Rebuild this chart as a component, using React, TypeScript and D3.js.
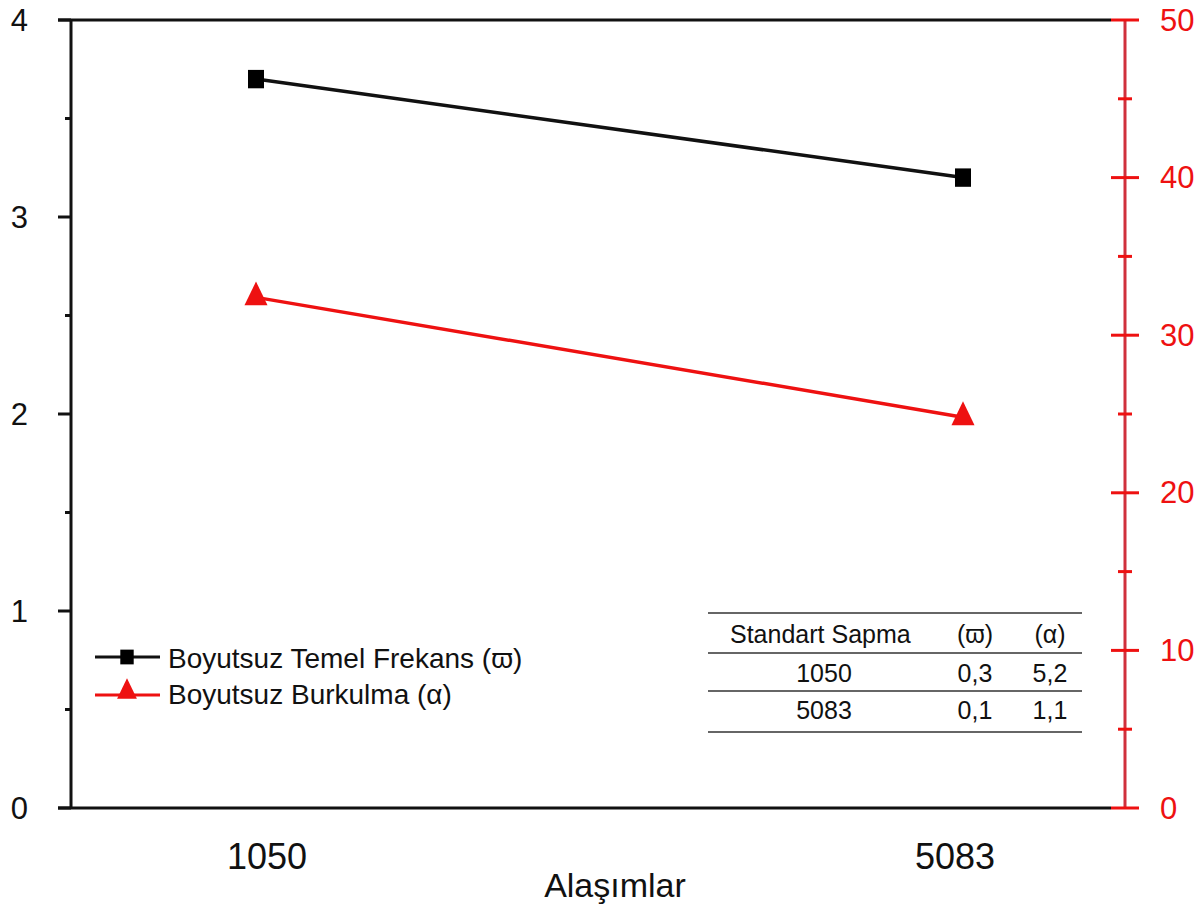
import React from "react";
import * as d3 from "d3";

// values
const categories = ["1050", "5083"];
const frekansValues = [3.7, 3.2]; // left axis
const burkulmaValues = [32.4, 24.8]; // right axis
const leftTicks = [0, 1, 2, 3, 4];
const leftMinor = [0.5, 1.5, 2.5, 3.5];
const rightTicks = [0, 10, 20, 30, 40, 50];
const rightMinor = [5, 15, 25, 35, 45];
const tableHeader = ["Standart Sapma", "(ϖ)", "(α)"];
const tableRows = [
  ["1050", "0,3", "5,2"],
  ["5083", "0,1", "1,1"],
];
const labelShift = [11, -8];

const W = 1203;
const H = 915;
const left = 71;
const right = 1125;
const top = 20;
const bottom = 808;
const RED = "#ee1111";
const FONT = "'Liberation Sans', Arial, sans-serif";

export default function App() {
  const x = d3.scalePoint<string>().domain(categories).range([left + 185, right - 162]);
  const yL = d3.scaleLinear().domain([0, 4]).range([bottom, top]);
  const yR = d3.scaleLinear().domain([0, 50]).range([bottom, top]);

  const lineL = d3
    .line<number>()
    .x((_, i) => x(categories[i])!)
    .y((d) => yL(d));
  const lineR = d3
    .line<number>()
    .x((_, i) => x(categories[i])!)
    .y((d) => yR(d));

  const square = d3.symbol(d3.symbolSquare, 256)()!;
  const tri = d3.symbol(d3.symbolTriangle, 230)()!;
  const squareSmall = d3.symbol(d3.symbolSquare, 180)()!;
  const triSmall = d3.symbol(d3.symbolTriangle, 170)()!;

  // table columns
  const colX = [824, 975, 1050];
  const rowBase = [643, 682, 719];
  const ruleY = [613, 653, 691, 732];

  return (
    <svg
      width={W}
      height={H}
      style={{ position: "absolute", left: 0, top: 0, background: "#fff" }}
      fontFamily={FONT}
    >
      {/* frame lines */}
      <line x1={58} x2={1111} y1={top} y2={top} stroke="#111" strokeWidth={3} />
      <line x1={58} x2={1111} y1={bottom} y2={bottom} stroke="#111" strokeWidth={3} />
      <line x1={left} x2={left} y1={top} y2={bottom} stroke="#111" strokeWidth={3} />

      {/* left axis */}
      {leftTicks.map((t) => (
        <g key={"l" + t}>
          <line x1={58} x2={left} y1={yL(t)} y2={yL(t)} stroke="#111" strokeWidth={3} />
          <text x={28} y={yL(t)} textAnchor="end" dominantBaseline="central" fontSize={31} fill="#111">
            {t}
          </text>
        </g>
      ))}
      {leftMinor.map((t) => (
        <line key={"lm" + t} x1={65} x2={left} y1={yL(t)} y2={yL(t)} stroke="#111" strokeWidth={3} />
      ))}

      {/* right axis */}
      <line x1={right} x2={right} y1={top} y2={bottom} stroke="#d0303c" strokeWidth={3} />
      {rightTicks.map((t) => (
        <g key={"r" + t}>
          <line x1={1111} x2={1139} y1={yR(t)} y2={yR(t)} stroke={RED} strokeWidth={3} />
          <text x={1160} y={yR(t)} dominantBaseline="central" fontSize={31} fill={RED}>
            {t}
          </text>
        </g>
      ))}
      {rightMinor.map((t) => (
        <line key={"rm" + t} x1={1118} x2={1132} y1={yR(t)} y2={yR(t)} stroke={RED} strokeWidth={3} />
      ))}

      {/* x labels */}
      {categories.map((c, i) => (
        <text key={c} x={x(c)! + labelShift[i]} y={869} textAnchor="middle" fontSize={36} fill="#111">
          {c}
        </text>
      ))}
      <text x={615} y={897} textAnchor="middle" fontSize={34} fill="#111">
        Alaşımlar
      </text>

      {/* series */}
      <path d={lineL(frekansValues)!} fill="none" stroke="#111" strokeWidth={3.5} />
      {frekansValues.map((v, i) => (
        <path
          key={"s" + i}
          d={square}
          transform={`translate(${x(categories[i])},${yL(v)}) scale(1,1.15)`}
          fill="#000"
        />
      ))}
      <path d={lineR(burkulmaValues)!} fill="none" stroke={RED} strokeWidth={3.5} />
      {burkulmaValues.map((v, i) => (
        <path
          key={"t" + i}
          d={tri}
          transform={`translate(${x(categories[i])},${yR(v)}) scale(1,1.2)`}
          fill={RED}
        />
      ))}

      {/* legend */}
      <g>
        <line x1={95} x2={160} y1={657} y2={657} stroke="#111" strokeWidth={3} />
        <path d={squareSmall} transform="translate(127,657) scale(1,1.1)" fill="#000" />
        <text x={168} y={668} fontSize={28} fill="#111">
          Boyutsuz Temel Frekans (ϖ)
        </text>
        <line x1={95} x2={160} y1={695} y2={695} stroke={RED} strokeWidth={3} />
        <path d={triSmall} transform="translate(127,692) scale(1,1.2)" fill={RED} />
        <text x={168} y={704} fontSize={28} fill="#111">
          Boyutsuz Burkulma (α)
        </text>
      </g>

      {/* standard deviation table */}
      <g fontSize={25} fill="#111">
        {ruleY.map((y) => (
          <line key={"r" + y} x1={708} x2={1082} y1={y} y2={y} stroke="#333" strokeWidth={1.5} />
        ))}
        <text x={730} y={rowBase[0]}>
          {tableHeader[0]}
        </text>
        <text x={colX[1]} y={rowBase[0]} textAnchor="middle">
          {tableHeader[1]}
        </text>
        <text x={colX[2]} y={rowBase[0]} textAnchor="middle">
          {tableHeader[2]}
        </text>
        {tableRows.map((row, ri) =>
          row.map((cell, ci) => (
            <text key={ri + "-" + ci} x={colX[ci]} y={rowBase[ri + 1]} textAnchor="middle">
              {cell}
            </text>
          ))
        )}
      </g>
    </svg>
  );
}
